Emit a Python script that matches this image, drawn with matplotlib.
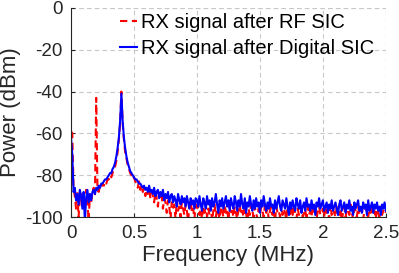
import numpy as np
import matplotlib
matplotlib.use('Agg')
import matplotlib.pyplot as plt

# Frekwencja (MHz) - siatka probek 0..2.5 co 0.01
freq_mhz = np.linspace(0, 2.5, 251)

# Widmo po RF SIC (dBm)
rf_sic = [
    -59, -60, -86, -90, -96, -88, -100, -91, -89, -94,
    -90, -96, -87, -92, -102, -89, -93, -88, -86, -90,
    -43, -87, -88, -85, -86, -84, -85, -83, -84, -82,
    -82, -80, -81, -79, -77, -76, -73, -69, -63, -55,
    -40, -55, -63, -69, -72, -75, -77, -79, -80, -82,
    -81, -83, -84, -86, -83, -87, -85, -88, -86, -90,
    -87, -89, -86, -91, -88, -90, -93, -88, -91, -95,
    -89, -92, -90, -96, -91, -93, -98, -92, -95, -101,
    -93, -96, -94, -101, -92, -97, -95, -100, -93, -96,
    -99, -94, -97, -102, -95, -92, -98, -96, -101, -94,
    -97, -94, -99, -96, -101, -95, -98, -93, -100, -96,
    -99, -95, -102, -97, -94, -100, -96, -98, -101, -95,
    -97, -100, -94, -98, -96, -102, -95, -99, -97, -100,
    -95, -98, -101, -96, -94, -99, -97, -100, -95, -98,
    -102, -96, -99, -94, -97, -100, -95, -98, -101, -96,
    -99, -95, -97, -100, -94, -98, -96, -101, -97, -95,
    -99, -96, -102, -95, -98, -97, -100, -94, -99, -96,
    -98, -101, -95, -97, -100, -96, -99, -94, -98, -101,
    -96, -99, -97, -95, -100, -98, -96, -102, -95, -99,
    -97, -100, -94, -98, -96, -101, -97, -95, -99, -98,
    -96, -100, -95, -98, -97, -101, -94, -99, -96, -98,
    -100, -95, -97, -99, -96, -102, -98, -95, -100, -97,
    -96, -99, -94, -98, -101, -96, -97, -100, -95, -99,
    -98, -96, -101, -97, -95, -99, -100, -96, -98, -94,
    -99, -97, -101, -96, -98, -100, -95, -99, -97, -96,
    -98,
]

# Widmo po Digital SIC (dBm)
digital_sic = [
    -62, -70, -88, -86, -92, -89, -94, -87, -90, -96,
    -88, -102, -91, -87, -93, -89, -92, -88, -87, -89,
    -86, -87, -85, -86, -84, -84, -83, -82, -82, -81,
    -80, -79, -79, -77, -76, -74, -71, -67, -62, -54,
    -41, -54, -62, -67, -71, -74, -76, -78, -79, -80,
    -81, -82, -82, -83, -84, -84, -85, -86, -85, -87,
    -86, -88, -85, -88, -87, -89, -86, -90, -88, -87,
    -91, -88, -90, -87, -92, -89, -91, -88, -93, -90,
    -89, -93, -90, -92, -95, -89, -92, -94, -90, -93,
    -91, -95, -90, -93, -96, -91, -94, -92, -96, -91,
    -92, -95, -90, -94, -97, -91, -93, -96, -90, -94,
    -92, -97, -91, -95, -93, -89, -94, -98, -92, -95,
    -91, -96, -93, -90, -95, -92, -97, -91, -94, -96,
    -90, -93, -97, -92, -95, -89, -94, -96, -91, -98,
    -93, -95, -90, -94, -97, -92, -96, -91, -95, -93,
    -98, -92, -95, -90, -94, -97, -93, -96, -91, -95,
    -94, -98, -92, -96, -93, -90, -95, -97, -92, -94,
    -96, -91, -95, -99, -93, -96, -92, -95, -97, -91,
    -94, -96, -92, -98, -95, -93, -97, -91, -95, -94,
    -97, -92, -96, -94, -99, -93, -95, -91, -96, -94,
    -92, -97, -95, -93, -98, -94, -96, -92, -97, -95,
    -93, -96, -99, -94, -92, -97, -95, -93, -98, -94,
    -96, -92, -97, -95, -99, -93, -96, -94, -92, -97,
    -95, -98, -93, -96, -94, -99, -92, -97, -95, -93,
    -98, -94, -96, -93, -97, -95, -99, -94, -96, -93,
    -97,
]

x_ticks = [0, 0.5, 1, 1.5, 2, 2.5]
x_tick_labels = ['0', '0.5', '1', '1.5', '2', '2.5']
y_ticks = [0, -20, -40, -60, -80, -100]
y_tick_labels = ['0', '-20', '-40', '-60', '-80', '-100']

plt.rcParams['font.family'] = ['Liberation Sans', 'DejaVu Sans']

fig = plt.figure(figsize=(3.99, 2.73), dpi=100)
ax = fig.add_axes([0.178, 0.205, 0.789, 0.766])

ax.plot(freq_mhz, rf_sic, color='red', linewidth=1.5, linestyle=(0, (3.5, 2.2)),
        label='RX signal after RF SIC')
ax.plot(freq_mhz, digital_sic, color='blue', linewidth=1.5,
        label='RX signal after Digital SIC')

ax.set_xlim(0, 2.5)
ax.set_ylim(-100, 0)
ax.set_xticks(x_ticks)
ax.set_xticklabels(x_tick_labels)
ax.set_yticks(y_ticks)
ax.set_yticklabels(y_tick_labels)

ax.grid(True, color='#c8c8c8', linestyle=(0, (4, 3)), linewidth=0.8)
ax.set_axisbelow(True)
# linie siatki na granicach (gora i prawa strona)
ax.axhline(0, color='#c8c8c8', linestyle=(0, (4, 3)), linewidth=0.8, zorder=0.5)
ax.axvline(2.5, color='#c8c8c8', linestyle=(0, (4, 3)), linewidth=0.8, zorder=0.5)

for s in ['top', 'right']:
    ax.spines[s].set_visible(False)
for s in ['left', 'bottom']:
    ax.spines[s].set_color('#262626')
    ax.spines[s].set_linewidth(0.8)

ax.tick_params(direction='in', length=3, width=0.8, color='#262626',
               labelsize=13.5, labelcolor='#262626', pad=6)

ax.set_xlabel('Frequency (MHz)', fontsize=16, color='#262626', labelpad=2)
ax.set_ylabel('Power (dBm)', fontsize=16, color='#262626')
ax.yaxis.set_label_coords(-0.16, 0.5)

ax.legend(loc='upper left', bbox_to_anchor=(0.156, 0.975), frameon=False,
          fontsize=14.5, handlelength=0.85, handletextpad=0.2,
          labelspacing=0.32, borderpad=0, borderaxespad=0)

fig.savefig('out.png', dpi=100)
